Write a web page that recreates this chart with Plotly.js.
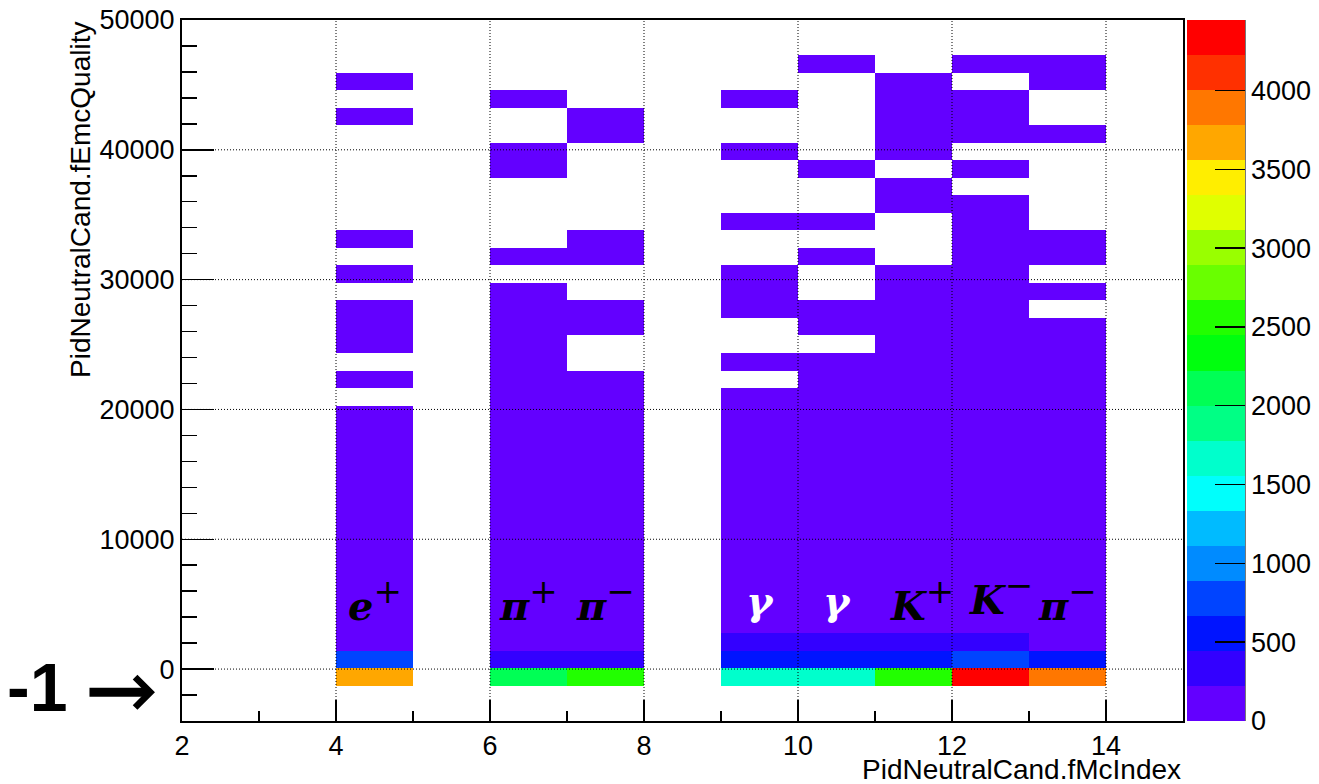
<!DOCTYPE html>
<html>
<head>
<meta charset="utf-8">
<script src="https://cdn.plot.ly/plotly-3.0.1.min.js"></script>
<style>
html,body{margin:0;padding:0;background:#fff;}
#chart{width:1319px;height:784px;}
</style>
</head>
<body>
<div id="chart"></div>
<script>
// ---- axes / binning ----
const xEdges = [2,3,4,5,6,7,8,9,10,11,12,13,14,15];        // PidNeutralCand.fMcIndex bins
const yRange = [-4000, 50000];                              // PidNeutralCand.fEmcQuality
const yBinCount = 40;
const xTicks = [2,4,6,8,10,12,14];
const yTicks = [0,10000,20000,30000,40000,50000];
const zTicks = [0,500,1000,1500,2000,2500,3000,3500,4000];

// ---- filled columns (lower edge of x bin) and their labels ----
const columnX = [4, 6, 7, 9, 10, 11, 12, 13];
const columnBase = ['e','π','π','γ','γ','K','K','π'];
const columnCharge = ['+','+','−','','','+','−','−'];

// ---- counts per y bin (bin 0 = [-4000,-2650], bin 2 holds -1) ----
const countsEPlus = [0,0,3650,800,150,120,110,95,90,80,
                     70,60,55,45,40,30,25,15,0,4,
                     0,3,2,3,0,2,0,1,0,0,
                     0,0,0,0,1,0,1,0,0,0];
const countsPiPlus = [0,0,2100,350,190,170,150,130,120,110,
                      95,85,75,65,55,45,40,30,25,20,
                      15,10,8,6,4,0,2,0,0,0,
                      0,1,2,0,0,1,0,0,0,0];
const countsPiMinus = [0,0,2550,330,180,160,140,125,110,100,
                       90,80,70,60,50,40,30,22,15,8,
                       0,0,3,2,0,0,2,1,0,0,
                       0,0,0,1,2,0,0,0,0,0];
const countsGamma1 = [0,0,1650,560,290,200,170,150,130,115,
                      100,90,80,70,60,50,40,30,20,0,
                      6,0,0,4,3,2,0,0,1,0,
                      0,0,1,0,0,1,0,0,0,0];
const countsGamma2 = [0,0,1680,540,310,210,180,160,140,120,
                      105,95,85,75,65,55,45,35,25,15,
                      8,0,4,3,0,0,2,0,1,0,
                      0,1,0,0,0,0,0,1,0,0];
const countsKPlus = [0,0,2600,520,330,215,190,170,150,130,
                     115,100,90,80,70,60,50,42,35,28,
                     22,18,14,10,7,5,0,0,0,2,
                     1,0,2,3,2,1,1,0,0,0];
const countsKMinus = [0,0,4447,780,340,220,200,180,160,140,
                      125,110,100,90,80,70,60,50,42,35,
                      28,22,18,14,11,8,6,5,3,2,
                      0,1,0,2,1,1,0,1,0,0];
const countsPiMinus2 = [0,0,3900,560,180,160,145,130,115,100,
                        90,80,70,60,50,42,35,28,22,16,
                        10,6,3,0,2,0,1,2,0,0,
                        0,0,0,1,0,0,1,1,0,0];
const columnCounts = [countsEPlus,countsPiPlus,countsPiMinus,countsGamma1,countsGamma2,countsKPlus,countsKMinus,countsPiMinus2];

// ROOT "pretty" palette, 20 contour levels
const palette = ['rgb(99,0,255)','rgb(51,0,255)','rgb(0,20,255)','rgb(0,68,255)','rgb(0,139,255)',
  'rgb(0,187,255)','rgb(0,255,252)','rgb(0,255,204)','rgb(0,255,133)','rgb(0,255,85)',
  'rgb(0,255,14)','rgb(34,255,0)','rgb(105,255,0)','rgb(153,255,0)','rgb(224,255,0)',
  'rgb(255,238,0)','rgb(255,167,0)','rgb(255,119,0)','rgb(255,48,0)','rgb(255,0,0)'];

// ---- build histogram matrix ----
const yStep = (yRange[1]-yRange[0])/yBinCount;
const yEdges = [];
for (let k=0;k<=yBinCount;k++) yEdges.push(yRange[0]+k*yStep);
const nx = xEdges.length-1;
const z = [];
for (let k=0;k<yBinCount;k++){
  const row = new Array(nx).fill(null);
  columnX.forEach((cx,ci)=>{
    const v = columnCounts[ci][k];
    row[xEdges.indexOf(cx)] = v>0 ? v : null;
  });
  z.push(row);
}
let zMax = 0;
columnCounts.forEach(a=>a.forEach(v=>{ if(v>zMax) zMax=v; }));

const colorscale = [];
palette.forEach((c,i)=>{
  colorscale.push([i/palette.length, c]);
  colorscale.push([(i+1)/palette.length, c]);
});

const FONT = 'Liberation Sans, Arial, Helvetica, sans-serif';
const tickFont = {family: FONT, size: 27, color: '#000'};

const trace = {
  type: 'heatmap',
  x: xEdges, y: yEdges, z: z,
  zmin: 0, zmax: zMax,
  colorscale: colorscale,
  hoverinfo: 'skip',
  colorbar: {
    x: 1.004, xanchor: 'left', xpad: 0,
    y: 0.5, yanchor: 'middle', len: 1, lenmode: 'fraction', ypad: 0,
    thickness: 58, thicknessmode: 'pixels',
    outlinewidth: 0,
    tickmode: 'array', tickvals: zTicks, ticktext: zTicks.map(String),
    ticks: 'inside', ticklen: 30, tickwidth: 1.5, tickcolor: '#000',
    tickfont: tickFont
  }
};

// gridlines (dotted, drawn above the boxes like ROOT)
const shapes = [];
xTicks.filter(v=>v>xEdges[0] && v<xEdges[xEdges.length-1]).forEach(v=>{
  shapes.push({type:'line', xref:'x', yref:'paper', x0:v, x1:v, y0:0, y1:1, layer:'above',
               line:{color:'#000', width:1, dash:'1px,2px'}});
});
yTicks.filter(v=>v>yRange[0] && v<yRange[1]).forEach(v=>{
  shapes.push({type:'line', xref:'paper', yref:'y', x0:0, x1:1, y0:v, y1:v, layer:'above',
               line:{color:'#000', width:1, dash:'1px,2px'}});
});
// colour bar axis line
shapes.push({type:'line', xref:'paper', yref:'paper', x0:1.062, x1:1.062, y0:0, y1:1, layer:'above',
             line:{color:'#333', width:1.2}});

const annotations = [];
columnX.forEach((cx,i)=>{
  const base = columnBase[i], ch = columnCharge[i];
  const isGamma = base === 'γ';
  const isK = base === 'K';
  const sup = ch ? '<sup><span style="font-size:34px;font-weight:normal">'+ch+'</span></sup>' : '';
  annotations.push({
    xref:'x', yref:'y', x: cx+0.5,
    y: (isK && ch==='−') ? 5800 : 5300,
    xshift: isK ? (ch==='−' ? 10 : 8) : 0,
    text: '<b><i>'+base+'</i></b>'+sup, showarrow:false,
    xanchor:'center', yanchor:'middle',
    font:{family:'DejaVu Serif, Liberation Serif, serif', size:40, color: isGamma ? '#fff' : '#000'}
  });
});
annotations.push({xref:'paper', yref:'paper', x:-0.102, y:1, xanchor:'center', yanchor:'top',
  textangle:-90, text:'PidNeutralCand.fEmcQuality', showarrow:false,
  font:{family:FONT, size:28, color:'#000'}});
annotations.push({xref:'paper', yref:'paper', x:1, y:-0.069, xanchor:'right', yanchor:'middle',
  text:'PidNeutralCand.fMcIndex', showarrow:false,
  font:{family:FONT, size:28, color:'#000'}});
annotations.push({xref:'paper', yref:'paper', x:-0.145, y:0.048, xanchor:'center', yanchor:'middle',
  text:'<b>-1</b>', showarrow:false,
  font:{family:FONT, size:68, color:'#000'}});
annotations.push({xref:'paper', yref:'paper', x:-0.027, y:0.041, text:'', showarrow:true,
  ax:-67, ay:0, arrowhead:4, arrowwidth:9, arrowsize:0.65, arrowcolor:'#000', standoff:0});

const layout = {
  width: 1319, height: 784,
  margin: {l:182, r:136, t:20, b:63, pad:0, autoexpand:false},
  paper_bgcolor:'#fff', plot_bgcolor:'#fff',
  showlegend:false,
  xaxis: {
    range:[xEdges[0], xEdges[xEdges.length-1]],
    tickmode:'array', tickvals:xTicks, ticktext:xTicks.map(String),
    ticks:'inside', ticklen:21, tickwidth:1.5, tickcolor:'#000',
    minor:{ticks:'inside', dtick:1, ticklen:10, tickwidth:1.5, tickcolor:'#000', showgrid:false},
    showline:true, linewidth:2, linecolor:'#000', mirror:true,
    showgrid:false, zeroline:false, tickfont:tickFont, fixedrange:true
  },
  yaxis: {
    range:yRange,
    tickmode:'array', tickvals:yTicks, ticktext:yTicks.map(String),
    ticks:'inside', ticklen:32, tickwidth:1.5, tickcolor:'#000',
    minor:{ticks:'inside', dtick:2000, tick0:0, ticklen:15, tickwidth:1.5, tickcolor:'#000', showgrid:false},
    showline:true, linewidth:2, linecolor:'#000', mirror:true,
    showgrid:false, zeroline:false, tickfont:tickFont, fixedrange:true
  },
  shapes: shapes,
  annotations: annotations
};

Plotly.newPlot('chart', [trace], layout, {displayModeBar:false, staticPlot:true});
</script>
</body>
</html>
